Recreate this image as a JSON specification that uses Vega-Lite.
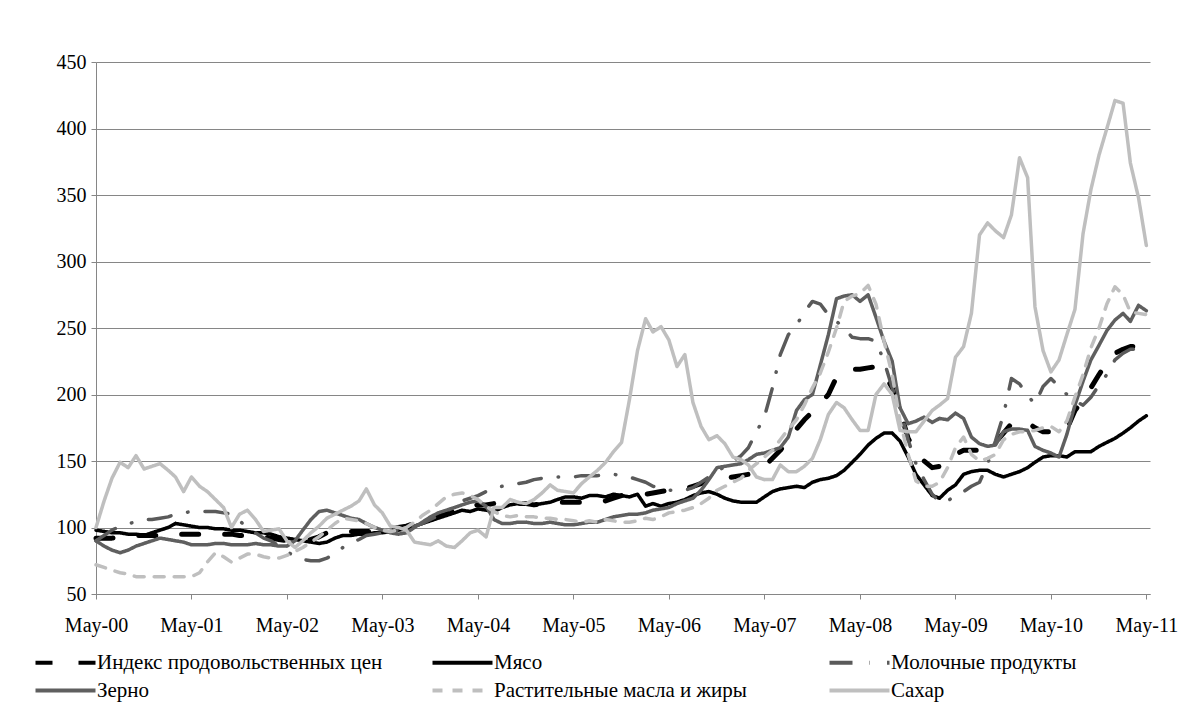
{
  "$schema": "https://vega.github.io/schema/vega-lite/v6.json",
  "width": 1054,
  "height": 532,
  "autosize": "none",
  "padding": {"left": 96, "top": 62, "right": 50, "bottom": 119},
  "background": "#ffffff",
  "data": {"values": [
    {"d":"2000-05-01","idx":92,"meat":98,"dairy":90,"cer":90,"oil":72,"sug":100},
    {"d":"2000-06-01","idx":92,"meat":97,"dairy":94,"cer":86,"oil":70,"sug":120},
    {"d":"2000-07-01","idx":92,"meat":96,"dairy":98,"cer":83,"oil":68,"sug":137},
    {"d":"2000-08-01","idx":93,"meat":96,"dairy":101,"cer":81,"oil":66,"sug":149},
    {"d":"2000-09-01","idx":93,"meat":95,"dairy":103,"cer":83,"oil":65,"sug":145},
    {"d":"2000-10-01","idx":94,"meat":95,"dairy":104,"cer":86,"oil":63,"sug":154},
    {"d":"2000-11-01","idx":94,"meat":94,"dairy":106,"cer":88,"oil":63,"sug":144},
    {"d":"2000-12-01","idx":94,"meat":96,"dairy":106,"cer":90,"oil":63,"sug":146},
    {"d":"2001-01-01","idx":94,"meat":98,"dairy":107,"cer":92,"oil":63,"sug":148},
    {"d":"2001-02-01","idx":94,"meat":100,"dairy":108,"cer":91,"oil":63,"sug":143},
    {"d":"2001-03-01","idx":95,"meat":103,"dairy":110,"cer":90,"oil":63,"sug":138},
    {"d":"2001-04-01","idx":95,"meat":102,"dairy":111,"cer":89,"oil":63,"sug":127},
    {"d":"2001-05-01","idx":95,"meat":101,"dairy":112,"cer":87,"oil":63,"sug":138},
    {"d":"2001-06-01","idx":95,"meat":100,"dairy":112,"cer":87,"oil":66,"sug":131},
    {"d":"2001-07-01","idx":95,"meat":100,"dairy":112,"cer":87,"oil":74,"sug":127},
    {"d":"2001-08-01","idx":95,"meat":99,"dairy":112,"cer":88,"oil":81,"sug":121},
    {"d":"2001-09-01","idx":95,"meat":99,"dairy":111,"cer":88,"oil":78,"sug":115},
    {"d":"2001-10-01","idx":95,"meat":98,"dairy":110,"cer":87,"oil":74,"sug":100},
    {"d":"2001-11-01","idx":94,"meat":98,"dairy":105,"cer":87,"oil":77,"sug":110},
    {"d":"2001-12-01","idx":94,"meat":97,"dairy":100,"cer":87,"oil":80,"sug":113},
    {"d":"2002-01-01","idx":94,"meat":96,"dairy":96,"cer":88,"oil":80,"sug":106},
    {"d":"2002-02-01","idx":93,"meat":96,"dairy":92,"cer":87,"oil":78,"sug":97},
    {"d":"2002-03-01","idx":92,"meat":95,"dairy":90,"cer":87,"oil":77,"sug":98},
    {"d":"2002-04-01","idx":91,"meat":93,"dairy":86,"cer":86,"oil":77,"sug":99},
    {"d":"2002-05-01","idx":90,"meat":92,"dairy":82,"cer":86,"oil":79,"sug":90},
    {"d":"2002-06-01","idx":90,"meat":91,"dairy":78,"cer":90,"oil":82,"sug":85},
    {"d":"2002-07-01","idx":90,"meat":90,"dairy":76,"cer":98,"oil":85,"sug":90},
    {"d":"2002-08-01","idx":91,"meat":89,"dairy":75,"cer":106,"oil":89,"sug":96},
    {"d":"2002-09-01","idx":93,"meat":88,"dairy":75,"cer":112,"oil":93,"sug":101},
    {"d":"2002-10-01","idx":96,"meat":89,"dairy":77,"cer":113,"oil":98,"sug":107},
    {"d":"2002-11-01","idx":97,"meat":92,"dairy":80,"cer":111,"oil":103,"sug":110},
    {"d":"2002-12-01","idx":97,"meat":94,"dairy":85,"cer":109,"oil":107,"sug":113},
    {"d":"2003-01-01","idx":97,"meat":94,"dairy":88,"cer":107,"oil":106,"sug":116},
    {"d":"2003-02-01","idx":97,"meat":95,"dairy":91,"cer":106,"oil":105,"sug":120},
    {"d":"2003-03-01","idx":97,"meat":95,"dairy":94,"cer":103,"oil":103,"sug":129},
    {"d":"2003-04-01","idx":97,"meat":96,"dairy":95,"cer":100,"oil":100,"sug":117},
    {"d":"2003-05-01","idx":98,"meat":96,"dairy":96,"cer":98,"oil":98,"sug":111},
    {"d":"2003-06-01","idx":99,"meat":97,"dairy":97,"cer":96,"oil":97,"sug":101},
    {"d":"2003-07-01","idx":100,"meat":98,"dairy":98,"cer":95,"oil":98,"sug":100},
    {"d":"2003-08-01","idx":101,"meat":99,"dairy":99,"cer":96,"oil":100,"sug":98},
    {"d":"2003-09-01","idx":103,"meat":101,"dairy":101,"cer":100,"oil":104,"sug":89},
    {"d":"2003-10-01","idx":105,"meat":103,"dairy":103,"cer":104,"oil":109,"sug":88},
    {"d":"2003-11-01","idx":107,"meat":105,"dairy":106,"cer":108,"oil":113,"sug":87},
    {"d":"2003-12-01","idx":109,"meat":107,"dairy":109,"cer":111,"oil":118,"sug":90},
    {"d":"2004-01-01","idx":111,"meat":109,"dairy":112,"cer":113,"oil":123,"sug":86},
    {"d":"2004-02-01","idx":113,"meat":111,"dairy":116,"cer":115,"oil":125,"sug":85},
    {"d":"2004-03-01","idx":115,"meat":113,"dairy":120,"cer":117,"oil":126,"sug":90},
    {"d":"2004-04-01","idx":116,"meat":112,"dairy":122,"cer":119,"oil":124,"sug":96},
    {"d":"2004-05-01","idx":117,"meat":114,"dairy":124,"cer":120,"oil":121,"sug":98},
    {"d":"2004-06-01","idx":117,"meat":113,"dairy":127,"cer":116,"oil":116,"sug":93},
    {"d":"2004-07-01","idx":118,"meat":112,"dairy":129,"cer":106,"oil":112,"sug":115},
    {"d":"2004-08-01","idx":118,"meat":115,"dairy":131,"cer":103,"oil":109,"sug":115},
    {"d":"2004-09-01","idx":118,"meat":117,"dairy":132,"cer":103,"oil":108,"sug":121},
    {"d":"2004-10-01","idx":118,"meat":118,"dairy":133,"cer":104,"oil":109,"sug":119},
    {"d":"2004-11-01","idx":118,"meat":118,"dairy":134,"cer":104,"oil":108,"sug":118},
    {"d":"2004-12-01","idx":117,"meat":117,"dairy":136,"cer":103,"oil":108,"sug":121},
    {"d":"2005-01-01","idx":118,"meat":118,"dairy":137,"cer":103,"oil":107,"sug":126},
    {"d":"2005-02-01","idx":118,"meat":119,"dairy":137,"cer":104,"oil":107,"sug":132},
    {"d":"2005-03-01","idx":119,"meat":121,"dairy":138,"cer":103,"oil":106,"sug":128},
    {"d":"2005-04-01","idx":119,"meat":123,"dairy":138,"cer":102,"oil":106,"sug":127},
    {"d":"2005-05-01","idx":119,"meat":123,"dairy":138,"cer":102,"oil":105,"sug":126},
    {"d":"2005-06-01","idx":119,"meat":122,"dairy":139,"cer":103,"oil":104,"sug":133},
    {"d":"2005-07-01","idx":119,"meat":124,"dairy":139,"cer":104,"oil":105,"sug":138},
    {"d":"2005-08-01","idx":119,"meat":124,"dairy":139,"cer":104,"oil":104,"sug":143},
    {"d":"2005-09-01","idx":120,"meat":123,"dairy":140,"cer":106,"oil":106,"sug":149},
    {"d":"2005-10-01","idx":122,"meat":125,"dairy":140,"cer":108,"oil":105,"sug":157},
    {"d":"2005-11-01","idx":124,"meat":124,"dairy":139,"cer":109,"oil":104,"sug":164},
    {"d":"2005-12-01","idx":125,"meat":123,"dairy":138,"cer":110,"oil":104,"sug":196},
    {"d":"2006-01-01","idx":125,"meat":125,"dairy":136,"cer":110,"oil":105,"sug":233},
    {"d":"2006-02-01","idx":125,"meat":116,"dairy":134,"cer":111,"oil":107,"sug":257},
    {"d":"2006-03-01","idx":126,"meat":118,"dairy":131,"cer":113,"oil":106,"sug":247},
    {"d":"2006-04-01","idx":127,"meat":116,"dairy":130,"cer":114,"oil":108,"sug":251},
    {"d":"2006-05-01","idx":128,"meat":118,"dairy":128,"cer":115,"oil":111,"sug":241},
    {"d":"2006-06-01","idx":128,"meat":119,"dairy":128,"cer":118,"oil":112,"sug":221},
    {"d":"2006-07-01","idx":129,"meat":121,"dairy":128,"cer":120,"oil":113,"sug":230},
    {"d":"2006-08-01","idx":131,"meat":124,"dairy":130,"cer":122,"oil":115,"sug":194},
    {"d":"2006-09-01","idx":133,"meat":126,"dairy":134,"cer":128,"oil":118,"sug":176},
    {"d":"2006-10-01","idx":135,"meat":127,"dairy":138,"cer":136,"oil":122,"sug":166},
    {"d":"2006-11-01","idx":136,"meat":125,"dairy":142,"cer":145,"oil":128,"sug":169},
    {"d":"2006-12-01","idx":137,"meat":122,"dairy":146,"cer":146,"oil":131,"sug":163},
    {"d":"2007-01-01","idx":138,"meat":120,"dairy":150,"cer":147,"oil":134,"sug":153},
    {"d":"2007-02-01","idx":139,"meat":119,"dairy":154,"cer":148,"oil":137,"sug":151},
    {"d":"2007-03-01","idx":140,"meat":119,"dairy":160,"cer":151,"oil":143,"sug":147},
    {"d":"2007-04-01","idx":142,"meat":119,"dairy":172,"cer":155,"oil":148,"sug":138},
    {"d":"2007-05-01","idx":146,"meat":123,"dairy":183,"cer":156,"oil":153,"sug":136},
    {"d":"2007-06-01","idx":152,"meat":127,"dairy":205,"cer":158,"oil":158,"sug":136},
    {"d":"2007-07-01","idx":158,"meat":129,"dairy":230,"cer":160,"oil":166,"sug":147},
    {"d":"2007-08-01","idx":166,"meat":130,"dairy":245,"cer":168,"oil":174,"sug":142},
    {"d":"2007-09-01","idx":174,"meat":131,"dairy":252,"cer":188,"oil":181,"sug":142},
    {"d":"2007-10-01","idx":181,"meat":130,"dairy":262,"cer":196,"oil":192,"sug":146},
    {"d":"2007-11-01","idx":187,"meat":134,"dairy":270,"cer":200,"oil":205,"sug":152},
    {"d":"2007-12-01","idx":193,"meat":136,"dairy":268,"cer":222,"oil":216,"sug":166},
    {"d":"2008-01-01","idx":200,"meat":137,"dairy":260,"cer":245,"oil":232,"sug":185},
    {"d":"2008-02-01","idx":213,"meat":139,"dairy":255,"cer":272,"oil":250,"sug":194},
    {"d":"2008-03-01","idx":217,"meat":143,"dairy":250,"cer":274,"oil":270,"sug":190},
    {"d":"2008-04-01","idx":219,"meat":149,"dairy":243,"cer":275,"oil":274,"sug":181},
    {"d":"2008-05-01","idx":219,"meat":155,"dairy":242,"cer":270,"oil":276,"sug":173},
    {"d":"2008-06-01","idx":220,"meat":162,"dairy":242,"cer":275,"oil":282,"sug":173},
    {"d":"2008-07-01","idx":221,"meat":167,"dairy":240,"cer":258,"oil":268,"sug":200},
    {"d":"2008-08-01","idx":216,"meat":171,"dairy":225,"cer":240,"oil":240,"sug":208},
    {"d":"2008-09-01","idx":205,"meat":171,"dairy":205,"cer":225,"oil":215,"sug":200},
    {"d":"2008-10-01","idx":188,"meat":165,"dairy":190,"cer":190,"oil":180,"sug":173},
    {"d":"2008-11-01","idx":167,"meat":153,"dairy":166,"cer":178,"oil":155,"sug":172},
    {"d":"2008-12-01","idx":157,"meat":140,"dairy":148,"cer":180,"oil":135,"sug":172},
    {"d":"2009-01-01","idx":150,"meat":132,"dairy":136,"cer":183,"oil":131,"sug":180},
    {"d":"2009-02-01","idx":145,"meat":124,"dairy":125,"cer":179,"oil":131,"sug":188},
    {"d":"2009-03-01","idx":146,"meat":122,"dairy":119,"cer":182,"oil":134,"sug":192},
    {"d":"2009-04-01","idx":148,"meat":128,"dairy":120,"cer":181,"oil":145,"sug":197},
    {"d":"2009-05-01","idx":155,"meat":132,"dairy":124,"cer":186,"oil":160,"sug":228},
    {"d":"2009-06-01","idx":158,"meat":140,"dairy":127,"cer":182,"oil":168,"sug":236},
    {"d":"2009-07-01","idx":158,"meat":142,"dairy":131,"cer":168,"oil":155,"sug":261},
    {"d":"2009-08-01","idx":158,"meat":143,"dairy":134,"cer":163,"oil":150,"sug":320},
    {"d":"2009-09-01","idx":160,"meat":143,"dairy":148,"cer":161,"oil":152,"sug":329},
    {"d":"2009-10-01","idx":164,"meat":140,"dairy":165,"cer":162,"oil":155,"sug":323},
    {"d":"2009-11-01","idx":171,"meat":138,"dairy":185,"cer":172,"oil":166,"sug":318},
    {"d":"2009-12-01","idx":178,"meat":140,"dairy":212,"cer":174,"oil":170,"sug":335},
    {"d":"2010-01-01","idx":180,"meat":142,"dairy":208,"cer":174,"oil":172,"sug":378},
    {"d":"2010-02-01","idx":179,"meat":145,"dairy":199,"cer":173,"oil":172,"sug":363},
    {"d":"2010-03-01","idx":175,"meat":149,"dairy":193,"cer":161,"oil":173,"sug":266},
    {"d":"2010-04-01","idx":172,"meat":153,"dairy":206,"cer":158,"oil":175,"sug":233},
    {"d":"2010-05-01","idx":172,"meat":154,"dairy":212,"cer":156,"oil":176,"sug":217},
    {"d":"2010-06-01","idx":171,"meat":154,"dairy":206,"cer":153,"oil":172,"sug":226},
    {"d":"2010-07-01","idx":174,"meat":153,"dairy":200,"cer":170,"oil":180,"sug":245},
    {"d":"2010-08-01","idx":188,"meat":157,"dairy":195,"cer":192,"oil":198,"sug":264},
    {"d":"2010-09-01","idx":196,"meat":157,"dairy":192,"cer":210,"oil":215,"sug":321},
    {"d":"2010-10-01","idx":205,"meat":157,"dairy":198,"cer":226,"oil":235,"sug":354},
    {"d":"2010-11-01","idx":215,"meat":161,"dairy":207,"cer":237,"oil":250,"sug":380},
    {"d":"2010-12-01","idx":224,"meat":164,"dairy":215,"cer":248,"oil":268,"sug":400},
    {"d":"2011-01-01","idx":231,"meat":167,"dairy":226,"cer":256,"oil":281,"sug":421},
    {"d":"2011-02-01","idx":234,"meat":171,"dairy":231,"cer":261,"oil":275,"sug":419},
    {"d":"2011-03-01","idx":236,"meat":175,"dairy":234,"cer":255,"oil":262,"sug":374},
    {"d":"2011-04-01","idx":236,"meat":180,"dairy":234,"cer":267,"oil":261,"sug":348},
    {"d":"2011-05-01","idx":234,"meat":184,"dairy":233,"cer":263,"oil":260,"sug":312}
  ]},
  "transform": [
    {"fold": ["idx", "meat", "dairy", "cer", "oil", "sug"], "as": ["k", "v"]}
  ],
  "mark": {"type": "line", "strokeCap": "round", "strokeJoin": "round"},
  "encoding": {
    "x": {
      "field": "d", "type": "temporal",
      "scale": {"type": "utc", "domain": [
        {"year": 2000, "month": 5, "date": 1, "utc": true},
        {"year": 2011, "month": 5, "date": 15, "utc": true}
      ]},
      "axis": {
        "title": null, "grid": false,
        "labelExpr": "utcFormat(datum.value, '%b') + '-' + utcFormat(datum.value, '%y')",
        "values": [
          {"year": 2000, "month": 5, "date": 1, "utc": true},
          {"year": 2001, "month": 5, "date": 1, "utc": true},
          {"year": 2002, "month": 5, "date": 1, "utc": true},
          {"year": 2003, "month": 5, "date": 1, "utc": true},
          {"year": 2004, "month": 5, "date": 1, "utc": true},
          {"year": 2005, "month": 5, "date": 1, "utc": true},
          {"year": 2006, "month": 5, "date": 1, "utc": true},
          {"year": 2007, "month": 5, "date": 1, "utc": true},
          {"year": 2008, "month": 5, "date": 1, "utc": true},
          {"year": 2009, "month": 5, "date": 1, "utc": true},
          {"year": 2010, "month": 5, "date": 1, "utc": true},
          {"year": 2011, "month": 5, "date": 1, "utc": true}
        ],
        "labelPadding": 16, "labelFlush": false, "labelOverlap": false, "labelLimit": 300
      }
    },
    "y": {
      "field": "v", "type": "quantitative",
      "scale": {"domain": [50, 450], "nice": false, "zero": false},
      "axis": {"title": null, "values": [50, 100, 150, 200, 250, 300, 350, 400, 450], "grid": true, "labelPadding": 5}
    },
    "color": {
      "field": "k", "type": "nominal",
      "scale": {"domain": ["idx", "meat", "dairy", "cer", "oil", "sug"],
                "range": ["#000000", "#000000", "#5a5a5a", "#5f5f5f", "#bfbfbf", "#bfbfbf"]},
      "legend": {"title": null, "labelExpr": "datum.label == 'idx' ? 'Индекс продовольственных цен' : datum.label == 'meat' ? 'Мясо' : datum.label == 'dairy' ? 'Молочные продукты' : datum.label == 'cer' ? 'Зерно' : datum.label == 'oil' ? 'Растительные масла и жиры' : 'Сахар'"}
    },
    "strokeDash": {
      "field": "k", "type": "nominal",
      "scale": {"domain": ["idx", "meat", "dairy", "cer", "oil", "sug"],
                "range": [[17, 26], [1, 0], [23, 17, 0.5, 17], [1, 0], [10, 10], [1, 0]]},
      "legend": {"title": null, "labelExpr": "datum.label == 'idx' ? 'Индекс продовольственных цен' : datum.label == 'meat' ? 'Мясо' : datum.label == 'dairy' ? 'Молочные продукты' : datum.label == 'cer' ? 'Зерно' : datum.label == 'oil' ? 'Растительные масла и жиры' : 'Сахар'"}
    },
    "strokeWidth": {"condition": {"test": "datum.k == 'idx'", "value": 5}, "value": 3.5}
  },
  "config": {
    "font": "Liberation Serif",
    "view": {"stroke": null},
    "axis": {
      "labelFont": "Liberation Serif", "labelFontSize": 20, "labelColor": "#000000",
      "domainColor": "#868686", "domainWidth": 1, "tickColor": "#868686", "tickSize": 5,
      "gridColor": "#868686", "gridWidth": 1
    },
    "legend": {
      "orient": "none", "direction": "horizontal", "legendX": -41, "legendY": 590, "padding": 0,
      "columns": 3, "gridAlign": "all", "columnPadding": 41, "rowPadding": 6,
      "symbolType": "M-6,0H6", "symbolSize": 100, "symbolStrokeWidth": 4,
      "labelFont": "Liberation Serif", "labelFontSize": 21, "labelColor": "#000000",
      "labelOffset": 21, "labelLimit": 400
    }
  }
}
